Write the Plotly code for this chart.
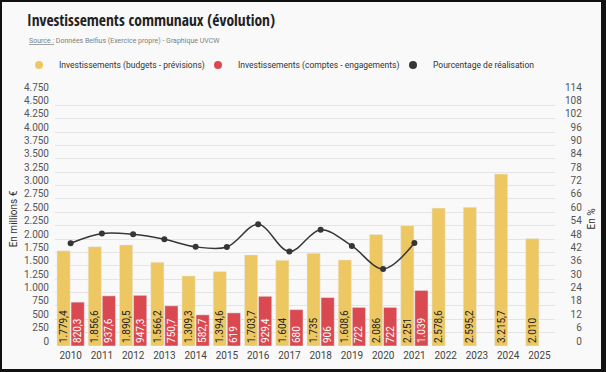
import plotly.graph_objects as go

years = ["2010", "2011", "2012", "2013", "2014", "2015", "2016", "2017",
         "2018", "2019", "2020", "2021", "2022", "2023", "2024", "2025"]
budgets = [1779.4, 1856.6, 1890.5, 1566.2, 1309.3, 1394.6, 1703.7, 1604,
           1735, 1608.6, 2086, 2251, 2578.6, 2595.2, 3215.7, 2010]
comptes = [820.3, 937.6, 947.3, 750.7, 582.7, 619, 929.4, 680,
           906, 722, 722, 1039, None, None, None, None]
realisation = [46.1, 50.5, 50.1, 47.9, 44.5, 44.4, 54.6, 42.4,
               52.2, 44.9, 34.6, 46.2, None, None, None, None]
right_ticks = [0, 6, 12, 18, 24, 30, 36, 42, 48, 54, 60, 66, 72, 78, 84,
               90, 96, 102, 108, 114]
series_names = ["Investissements (budgets - prévisions)",
                "Investissements (comptes - engagements)",
                "Pourcentage de réalisation"]

YELLOW = "#EDC862"
RED = "#DA4950"
DARK = "#363636"
FONT = "Roboto, sans-serif"
TITLE_FONT = "Open Sans Condensed, Roboto, sans-serif"

W, H = 606, 372
ML, MR, MT, MB = 55, 51, 92, 26
PW, PH = W - ML - MR, H - MT - MB

def px_x(x):
    return (x - ML) / PW

def px_y(y):
    return (H - MB - y) / PH

def f(size, color, fam=FONT):
    return dict(size=size, color=color, family=fam)

fig = go.Figure()
fig.add_trace(go.Bar(
    x=years, y=budgets, name=series_names[0],
    marker_color=YELLOW, showlegend=False,
    texttemplate="%{y:,.1~f}", textposition="inside", textangle=-90,
    insidetextanchor="start", textfont=f(10, "#222222"),
    hoverinfo="skip",
))
fig.add_trace(go.Bar(
    x=years, y=comptes, name=series_names[1],
    marker_color=RED, showlegend=False,
    texttemplate="%{y:,.1~f}", textposition="inside", textangle=-90,
    insidetextanchor="start", textfont=f(10, "#ffffff"),
    hoverinfo="skip",
))
fig.add_trace(go.Scatter(
    x=years, y=realisation, name=series_names[2], yaxis="y2",
    mode="lines+markers", line=dict(color=DARK, width=1.5, shape="spline"),
    marker=dict(color=DARK, size=6), showlegend=False, hoverinfo="skip",
))
# legend entries (circles), one legend per entry
for i, (name, col) in enumerate(zip(series_names, [YELLOW, RED, DARK])):
    fig.add_trace(go.Scatter(x=[None], y=[None], mode="markers", name=name,
                             legend="legend" if i == 0 else f"legend{i + 1}",
                             marker=dict(color=col, size=8, symbol="circle")))

leg_common = dict(orientation="h", xref="container", yref="container",
                  xanchor="left", yanchor="middle", y=1 - 65 / H,
                  font=f(8.5, "#333333"), itemwidth=30,
                  bgcolor="rgba(0,0,0,0)")

frame = "#111111"
fig.update_layout(
    width=W, height=H,
    margin=dict(l=ML, r=MR, t=MT, b=MB, autoexpand=False),
    paper_bgcolor="#f9f9f9", plot_bgcolor="#f9f9f9",
    separators=",.",
    barmode="group", bargap=0.1, bargroupgap=0.06,
    uniformtext=dict(minsize=9, mode="show"),
    font=f(10, "#444444"),
    title=dict(text="Investissements communaux (évolution)",
               x=27 / W, xanchor="left", y=1 - 21 / H, yanchor="middle",
               font=f(15.5, "#222222", TITLE_FONT)),
    xaxis=dict(type="category", showgrid=False, showline=False, ticks="",
               tickfont=f(10, "#444444"), range=[-0.5, 15.5],
               ticklabelstandoff=2),
    yaxis=dict(range=[0, 4750], dtick=250, tickformat=",d",
               gridcolor="#e4e4e4", gridwidth=1, zeroline=False,
               tickfont=f(10, "#555555"),
               ticklabelshift=-5, ticklabelstandoff=5,
               title=dict(text="En millions €", standoff=4,
                          font=f(10, "#333333"))),
    yaxis2=dict(range=[0, 114], overlaying="y", side="right",
                tickvals=right_ticks,
                ticktext=[str(v).rjust(3, "\u2007") for v in right_ticks],
                showgrid=False, zeroline=False,
                tickfont=f(10, "#555555"),
                ticklabelshift=-5, ticklabelstandoff=9,
                title=dict(text="En %", standoff=6, font=f(10, "#333333"))),
    legend=dict(x=19 / W, **leg_common),
    legend2=dict(x=198 / W, **leg_common),
    legend3=dict(x=393 / W, **leg_common),
    annotations=[dict(
        text="<u>Source :</u> Données Belfius (Exercice propre) - Graphique UVCW",
        xref="paper", yref="paper", x=px_x(27), y=px_y(41),
        xanchor="left", yanchor="middle", showarrow=False,
        font=f(7, "#808080"))],
    shapes=[
        dict(type="rect", xref="paper", yref="paper", layer="above",
             x0=px_x(0), x1=px_x(2), y0=px_y(372), y1=px_y(0),
             fillcolor=frame, line_width=0),
        dict(type="rect", xref="paper", yref="paper", layer="above",
             x0=px_x(0), x1=px_x(606), y0=px_y(2), y1=px_y(0),
             fillcolor=frame, line_width=0),
        dict(type="rect", xref="paper", yref="paper", layer="above",
             x0=px_x(601), x1=px_x(606), y0=px_y(372), y1=px_y(0),
             fillcolor=frame, line_width=0),
        dict(type="rect", xref="paper", yref="paper", layer="above",
             x0=px_x(0), x1=px_x(606), y0=px_y(372), y1=px_y(369),
             fillcolor=frame, line_width=0),
    ],
)

fig.write_html("out.html", config={"displayModeBar": False},
               post_script="document.body.style.margin='0';"
                           "document.body.style.overflow='hidden';")
